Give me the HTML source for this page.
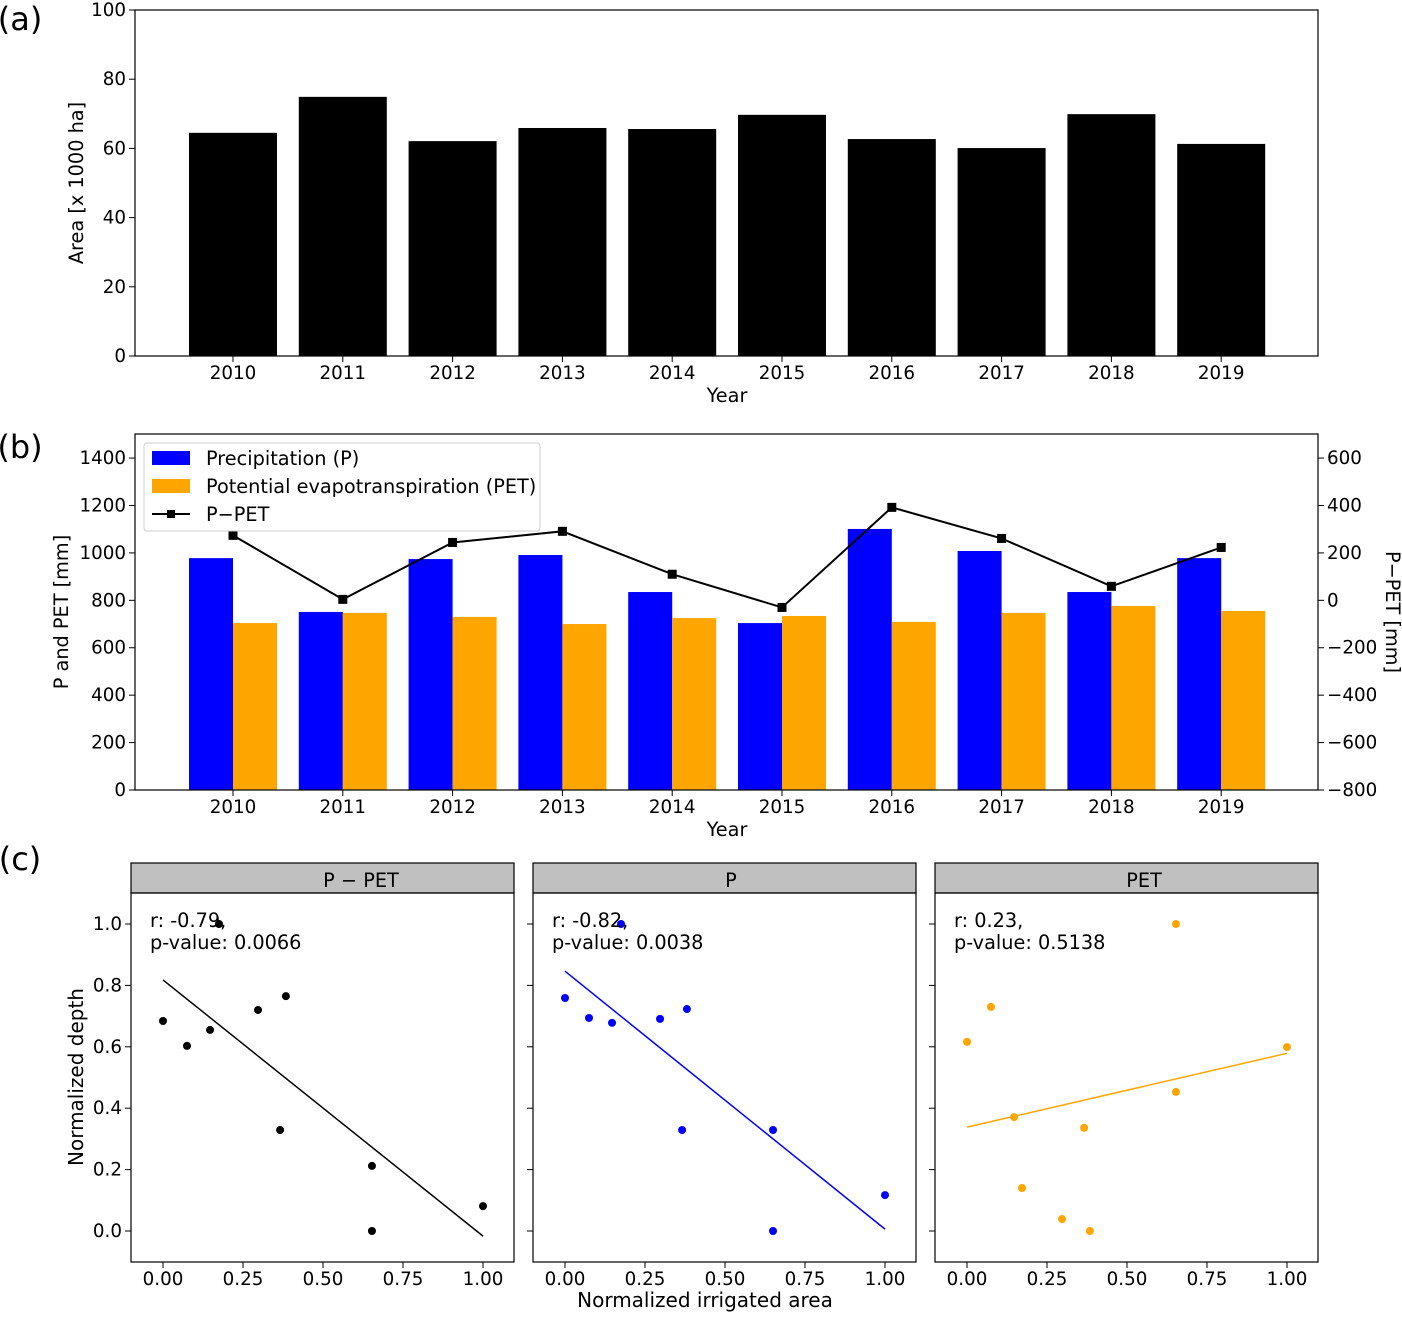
<!DOCTYPE html>
<html><head><meta charset="utf-8"><style>
body{margin:0;background:#fff}
svg{font-family:"DejaVu Sans","Liberation Sans",sans-serif;}
</style></head><body>
<svg id="fig" width="1402" height="1313" xmlns="http://www.w3.org/2000/svg"></svg>
<script>
const years=['2010','2011','2012','2013','2014','2015','2016','2017','2018','2019'];
const areaVals=[64.5,74.9,62.1,65.9,65.6,69.7,62.7,60.1,69.9,61.3];
const areaTicks=[0,20,40,60,80,100];
const precipVals=[978,751,974,991,835,704,1101,1008,835,978];
const petVals=[704,747,730,700,725,734,709,747,776,755];
const diffVals=[274,4,244,291,110,-30,392,261,59,223];
const bLeftTicks=[0,200,400,600,800,1000,1200,1400];
const bRightTicks=[-800,-600,-400,-200,0,200,400,600];
const scatterX=[0,0.075,0.147,0.175,0.297,0.366,0.384,0.653,0.653,1.0];
const scatterDiffY=[0.684,0.603,0.655,1.0,0.72,0.329,0.765,0.212,0,0.081];
const scatterPX=[0,0.075,0.147,0.175,0.297,0.366,0.381,0.65,0.65,1.0];
const scatterPY=[0.759,0.694,0.678,1.0,0.691,0.329,0.723,0.329,0,0.117];
const scatterPetX=[0,0.075,0.147,0.172,0.297,0.366,0.384,0.653,0.653,1.0];
const scatterPetY=[0.616,0.73,0.371,0.14,0.039,0.336,0,1.0,0.453,0.599];
const cXTicks=[0,0.25,0.5,0.75,1.0];
const cYTicks=[0,0.2,0.4,0.6,0.8,1.0];

const svg=document.getElementById('fig');
const NS='http://www.w3.org/2000/svg';
function mk(tag,attrs,parent,text){const e=document.createElementNS(NS,tag);for(const k in attrs)e.setAttribute(k,attrs[k]);if(text!==undefined)e.textContent=text;(parent||svg).appendChild(e);return e;}
function txt(x,y,s,size,anchor,name,extra){const t=mk('text',Object.assign({x:x,y:y,'font-size':size,'text-anchor':anchor||'middle',fill:'#000'},extra||{}),svg,s);


return t;}
const TS=18.3, LS=19.3;

// Panel a
const aL=135,aR=1318,aT=10,aB=356;
const xa=i=>233+i*109.8;
const ya=v=>aB-(v/100)*(aB-aT);
txt(20,30,'(a)',32,'middle','panel-a-label');
areaVals.forEach((v,i)=>{const r=mk('rect',{x:xa(i)-44,y:ya(v),width:88,height:aB-ya(v),fill:'#000'});

});
const fa=mk('rect',{x:aL,y:aT,width:aR-aL,height:aB-aT,fill:'none',stroke:'#000','stroke-width':1.2});

areaTicks.forEach(v=>{mk('line',{x1:aL-6,x2:aL,y1:ya(v),y2:ya(v),stroke:'#000'});txt(aL-9,ya(v)+6,String(v),TS,'end','a-y-tick');});
years.forEach((y,i)=>{mk('line',{x1:xa(i),x2:xa(i),y1:aB,y2:aB+6,stroke:'#000'});txt(xa(i),aB+23,y,TS,'middle','a-x-tick');});
txt(727,402,'Year',LS,'middle','a-x-axis-title');
txt(83,183,'Area [x 1000 ha]',LS,'middle','a-y-axis-title',{transform:'rotate(-90 83 183)'});

// Panel b
const bL=135,bR=1318,bT=434,bB=790;
const yb=v=>bB-v*0.2371;
const ybr=v=>yb(v+800);
txt(20,458,'(b)',32,'middle','panel-b-label');
precipVals.forEach((v,i)=>{const r=mk('rect',{x:xa(i)-44,y:yb(v),width:44,height:bB-yb(v),fill:'#0000ff'});
});
petVals.forEach((v,i)=>{const r=mk('rect',{x:xa(i),y:yb(v),width:44,height:bB-yb(v),fill:'#ffa500'});
});
const pl=mk('polyline',{points:diffVals.map((v,i)=>xa(i)+','+ybr(v)).join(' '),fill:'none',stroke:'#000','stroke-width':2});

diffVals.forEach((v,i)=>{const r=mk('rect',{x:xa(i)-4.5,y:ybr(v)-4.5,width:9,height:9,fill:'#000'});
});
const fb=mk('rect',{x:bL,y:bT,width:bR-bL,height:bB-bT,fill:'none',stroke:'#000','stroke-width':1.2});

bLeftTicks.forEach(v=>{mk('line',{x1:bL-6,x2:bL,y1:yb(v),y2:yb(v),stroke:'#000'});txt(bL-9,yb(v)+6,String(v),TS,'end','b-left-tick');});
bRightTicks.forEach(v=>{mk('line',{x1:bR,x2:bR+6,y1:ybr(v),y2:ybr(v),stroke:'#000'});txt(bR+9,ybr(v)+6,String(v).replace('-','\u2212'),TS,'start','b-right-tick');});
years.forEach((y,i)=>{mk('line',{x1:xa(i),x2:xa(i),y1:bB,y2:bB+6,stroke:'#000'});txt(xa(i),bB+23,y,TS,'middle','b-x-tick');});
txt(727,836,'Year',LS,'middle','b-x-axis-title');
txt(68,612,'P and PET [mm]',LS,'middle','b-left-axis-title',{transform:'rotate(-90 68 612)'});
txt(1386,612,'P\u2212PET [mm]',LS,'middle','b-right-axis-title',{transform:'rotate(90 1386 612)'});
const lg=mk('rect',{x:144,y:443,width:396,height:88,fill:'#fff',stroke:'#ccc',rx:3});

mk('rect',{x:152,y:451,width:38,height:14,fill:'#0000ff'});
mk('rect',{x:152,y:479,width:38,height:14,fill:'#ffa500'});
mk('line',{x1:152,x2:190,y1:514,y2:514,stroke:'#000','stroke-width':2});
mk('rect',{x:167,y:510,width:8,height:8,fill:'#000'});
txt(206,465,'Precipitation (P)',LS,'start','legend-precip');
txt(206,493,'Potential evapotranspiration (PET)',LS,'start','legend-pet');
txt(206,521,'P\u2212PET',LS,'start','legend-p-pet');

// Panel c
txt(20,870,'(c)',32,'middle','panel-c-label');
const panels=[
 {L:131,tx:361,title:'P \u2212 PET',xs:scatterX,ys:scatterDiffY,col:'#000',r:'r: -0.79,',p:'p-value: 0.0066',name:'p-pet'},
 {L:533,tx:731,title:'P',xs:scatterPX,ys:scatterPY,col:'#0000ff',r:'r: -0.82,',p:'p-value: 0.0038',name:'p'},
 {L:935,tx:1144,title:'PET',xs:scatterPetX,ys:scatterPetY,col:'#ffa500',r:'r: 0.23,',p:'p-value: 0.5138',name:'pet'}];
const cT=893,cB=1262,W=383;
const yc=v=>1231-v*307;
panels.forEach((P,pi)=>{
 const xc=v=>P.L+32+v*320;
 const h=mk('rect',{x:P.L,y:863,width:W,height:30,fill:'#c0c0c0',stroke:'#000','stroke-width':1.2});
 
 txt(P.tx,887,P.title,LS,'middle',P.name+'-strip-title');
 const f=mk('rect',{x:P.L,y:cT,width:W,height:cB-cT,fill:'none',stroke:'#000','stroke-width':1.2});
 
 const n=P.xs.length,mx=P.xs.reduce((a,b)=>a+b)/n,my=P.ys.reduce((a,b)=>a+b)/n;
 let sxy=0,sxx=0;for(let i=0;i<n;i++){sxy+=(P.xs[i]-mx)*(P.ys[i]-my);sxx+=(P.xs[i]-mx)**2;}
 const b=sxy/sxx,a=my-b*mx;
 const ln=mk('line',{x1:xc(0),y1:yc(a),x2:xc(1),y2:yc(a+b),stroke:P.col,'stroke-width':1.5});
 
 P.xs.forEach((x,i)=>{const c=mk('circle',{cx:xc(x),cy:yc(P.ys[i]),r:4,fill:P.col});
 });
 txt(P.L+19,927,P.r,LS,'start',P.name+'-r-value');
 txt(P.L+19,949,P.p,LS,'start',P.name+'-p-value');
 cXTicks.forEach(v=>{mk('line',{x1:xc(v),x2:xc(v),y1:cB,y2:cB+6,stroke:'#000'});txt(xc(v),cB+23,v.toFixed(2),TS,'middle','c-x-tick');});
 cYTicks.forEach(v=>{mk('line',{x1:P.L-6,x2:P.L,y1:yc(v),y2:yc(v),stroke:'#000'});
  if(pi===0)txt(P.L-9,yc(v)+6,v.toFixed(1),TS,'end','c-y-tick');});
});
txt(705,1307,'Normalized irrigated area',20,'middle','c-x-axis-title');
txt(83,1077,'Normalized depth',20,'middle','c-y-axis-title',{transform:'rotate(-90 83 1077)'});
</script>
</body></html>
